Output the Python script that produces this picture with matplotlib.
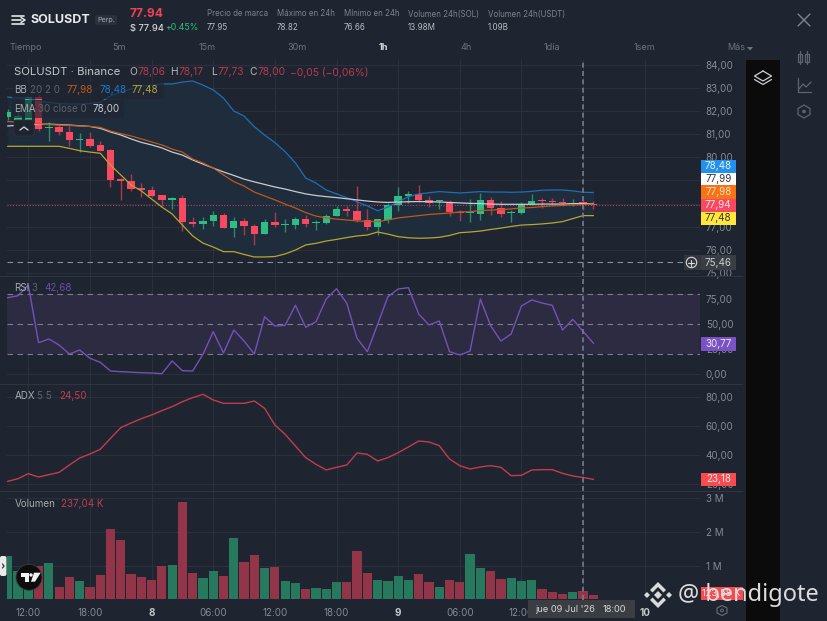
import matplotlib
matplotlib.use('Agg')
import matplotlib.pyplot as plt
from matplotlib.patches import Rectangle, Polygon, Circle, FancyBboxPatch
from matplotlib.ticker import FuncFormatter

plt.rcParams['font.family'] = ['Inter', 'DejaVu Sans']

# Hours counted from 12:00 of day 7
hours = list(range(-2, 56))

opens = [81.75, 81.62, 81.53, 82.61, 81.28, 81.30, 81.11, 80.74, 80.78, 80.52, 80.32, 79.05, 78.99, 78.66, 78.59, 78.37,
         78.16, 78.24, 77.20, 77.10, 77.25, 77.49, 76.96, 77.23, 77.03, 76.67, 77.22, 77.09, 77.07, 77.35, 77.15, 77.17,
         77.46, 77.75, 77.66, 77.28, 76.99, 77.29, 77.92, 78.34, 78.42, 78.14, 78.10, 78.05, 77.64, 77.61, 77.56, 78.16,
         77.81, 77.58, 77.61, 77.98, 78.16, 78.10, 78.08, 78.00, 78.06, 78.00]
highs = [82.10, 81.95, 82.61, 82.70, 81.55, 81.39, 81.36, 81.04, 81.09, 80.72, 80.35, 79.10, 79.28, 78.88, 78.76, 78.37,
         78.30, 78.37, 77.43, 77.43, 77.67, 77.61, 77.41, 77.38, 77.12, 77.32, 77.64, 77.32, 77.43, 77.52, 77.29, 77.55,
         77.90, 77.90, 78.76, 77.78, 77.32, 78.04, 78.73, 78.56, 78.80, 78.33, 78.16, 78.16, 77.72, 78.18, 78.47, 78.30,
         78.13, 77.72, 78.08, 78.40, 78.26, 78.26, 78.23, 78.21, 78.17, 78.10]
lows = [81.60, 81.45, 81.40, 81.15, 80.72, 80.96, 80.49, 80.25, 80.46, 80.28, 78.73, 78.16, 78.56, 78.30, 78.30, 77.90,
        77.75, 76.83, 76.97, 76.90, 77.03, 76.96, 76.57, 76.66, 76.22, 76.67, 76.97, 76.77, 76.92, 76.97, 76.86, 77.12,
        77.46, 77.46, 77.22, 76.86, 76.65, 77.17, 77.69, 78.04, 78.07, 77.87, 77.78, 77.46, 77.23, 77.20, 77.29, 77.52,
        77.43, 77.20, 77.55, 77.94, 77.81, 77.90, 77.90, 77.90, 77.73, 77.75]
closes = [81.97, 81.80, 82.61, 81.23, 81.31, 81.10, 80.75, 80.78, 80.49, 80.29, 79.02, 78.99, 78.65, 78.57, 78.33, 78.14,
          78.23, 77.20, 77.12, 77.25, 77.49, 76.96, 77.25, 77.03, 76.67, 77.22, 77.06, 77.12, 77.33, 77.12, 77.20, 77.48,
          77.77, 77.66, 77.30, 76.99, 77.32, 77.92, 78.33, 78.42, 78.14, 78.04, 78.13, 77.64, 77.58, 77.64, 78.14, 77.81,
          77.56, 77.64, 77.98, 78.13, 78.10, 78.08, 78.01, 78.04, 78.00, 77.94]

bb_upper = [82.61, 82.57, 82.55, 82.44, 82.38, 82.33, 82.31, 82.31, 82.33, 82.38, 82.66, 82.83, 82.96, 83.09, 83.13, 83.18,
            83.18, 83.26, 83.31, 83.13, 82.92, 82.57, 82.01, 81.79, 81.33, 80.97, 80.64, 80.25, 79.76, 79.11, 78.89, 78.59,
            78.42, 78.26, 78.08, 77.90, 77.69, 77.85, 78.08, 78.30, 78.42, 78.47, 78.52, 78.49, 78.46, 78.49, 78.52, 78.50,
            78.50, 78.49, 78.50, 78.53, 78.58, 78.59, 78.59, 78.55, 78.49, 78.48]
bb_mid = [81.55, 81.53, 81.49, 81.45, 81.42, 81.40, 81.38, 81.36, 81.34, 81.30, 81.14, 81.03, 80.93, 80.80, 80.67, 80.54,
          80.36, 80.23, 79.93, 79.76, 79.54, 79.24, 78.95, 78.76, 78.50, 78.33, 78.16, 77.98, 77.81, 77.61, 77.46, 77.38,
          77.33, 77.29, 77.25, 77.23, 77.22, 77.29, 77.38, 77.43, 77.48, 77.53, 77.56, 77.59, 77.64, 77.65, 77.70, 77.72,
          77.74, 77.77, 77.81, 77.83, 77.87, 77.90, 77.92, 77.94, 77.96, 77.98]
bb_lower = [80.48, 80.48, 80.48, 80.48, 80.48, 80.48, 80.39, 80.29, 80.23, 80.18, 79.67, 79.24, 78.81, 78.55, 78.20, 77.85,
            77.55, 77.07, 76.60, 76.29, 76.12, 75.92, 75.92, 75.80, 75.69, 75.69, 75.71, 75.82, 75.99, 76.21, 76.28, 76.38,
            76.45, 76.53, 76.60, 76.64, 76.77, 76.68, 76.57, 76.52, 76.50, 76.51, 76.54, 76.62, 76.74, 76.77, 76.81, 76.88,
            76.94, 77.01, 77.07, 77.09, 77.12, 77.16, 77.22, 77.35, 77.48, 77.48]
ema = [81.36, 81.39, 81.42, 81.43, 81.44, 81.42, 81.40, 81.37, 81.34, 81.26, 81.10, 80.97, 80.80, 80.65, 80.54, 80.41,
       80.23, 80.10, 79.89, 79.71, 79.54, 79.37, 79.22, 79.06, 78.94, 78.83, 78.72, 78.63, 78.52, 78.42, 78.35, 78.30,
       78.26, 78.21, 78.16, 78.11, 78.07, 78.05, 78.07, 78.08, 78.09, 78.08, 78.07, 78.05, 78.03, 78.01, 78.00, 77.98,
       77.97, 77.97, 77.97, 77.97, 77.98, 77.98, 77.98, 78.00, 78.00, 77.99]

rsi = [76.3, 78.3, 89.0, 31.3, 35.0, 29.0, 20.0, 24.0, 15.7, 11.7, 3.0, 2.3, 1.8, 1.3, 1.0, 0.3,
       13.0, 3.3, 3.0, 19.7, 42.3, 21.0, 44.0, 33.0, 20.0, 57.3, 48.0, 48.7, 68.7, 46.7, 52.3, 75.0,
       85.3, 70.7, 35.7, 22.3, 49.7, 77.3, 85.0, 86.3, 60.0, 49.0, 53.0, 22.3, 19.0, 23.0, 75.0, 48.3,
       33.0, 40.0, 68.0, 74.0, 71.0, 68.7, 44.0, 54.7, 42.7, 30.8]
adx = [21.84, 23.68, 27.13, 24.83, 26.44, 28.05, 33.10, 37.93, 40.69, 43.90, 51.50, 58.85, 62.07, 65.06, 67.59, 70.58,
       73.34, 76.79, 79.54, 81.84, 77.94, 75.64, 75.64, 75.64, 77.25, 72.20, 60.69, 54.26, 46.21, 38.17, 33.57, 29.66,
       31.50, 33.10, 41.39, 40.47, 35.87, 38.17, 41.61, 45.52, 49.66, 48.97, 46.44, 37.25, 32.65, 30.35, 31.73, 32.65,
       31.50, 25.75, 25.98, 29.66, 29.89, 29.89, 27.36, 25.52, 24.50, 23.18]
# volume in millions
volume = [1.27, 0.84, 0.55, 1.00, 1.09, 0.36, 0.65, 0.53, 0.37, 0.73, 2.08, 1.75, 0.75, 0.67, 0.56, 1.00,
          1.02, 2.88, 0.78, 0.62, 0.84, 0.70, 1.81, 1.12, 1.31, 0.92, 0.97, 0.53, 0.47, 0.32, 0.34, 0.31,
          0.50, 0.50, 1.43, 0.77, 0.56, 0.55, 0.70, 0.56, 0.75, 0.50, 0.37, 0.57, 0.51, 1.35, 0.92, 0.84,
          0.59, 0.62, 0.54, 0.57, 0.32, 0.22, 0.17, 0.22, 0.237, 0.124]

time_ticks = list(range(0, 61, 6))
# the 18:00 at the crosshair sits under the date tag, so the tag carries it
time_labels = ['12:00', '18:00', '8', '06:00', '12:00', '18:00', '9', '06:00', '12:00', '', '10']
price_ticks = [75, 76, 77, 78, 79, 80, 81, 82, 83, 84]
hidden_price_ticks = [78, 79]
rsi_ticks = [0, 25, 50, 75]
adx_ticks = [20, 40, 60, 80]
vol_ticks = [1, 2, 3]
last_price = 77.94
alert_price = 75.46
cross_hour = 54

BG = '#1e2530'
GRID = '#2a303c'
AXIS_TEXT = '#858a94'
UP = '#2ebd85'
DOWN = '#f84960'
W, H = 828, 621

fig = plt.figure(figsize=(W / 100, H / 100), dpi=100, facecolor=BG)


def pane(top, bottom, ylim, ticks):
    ax = fig.add_axes([7 / W, 1 - bottom / H, 693 / W, (bottom - top) / H], facecolor='none')
    ax.set_xlim(-2.074, 65.38)
    ax.set_ylim(*ylim)
    ax.set_xticks(time_ticks)
    ax.set_yticks(ticks)
    ax.yaxis.tick_right()
    ax.tick_params(length=0, labelsize=7.1, labelcolor=AXIS_TEXT, pad=4.2, labelbottom=False)
    ax.grid(color=GRID, lw=0.8)
    ax.set_axisbelow(True)
    for s in ax.spines.values():
        s.set_visible(False)
    ax.axvline(cross_hour, color='#767c8a', lw=1.2, ls=(0, (3, 2)), zorder=6)
    return ax


comma = FuncFormatter(lambda v, _: f'{v:.2f}'.replace('.', ','))

# price pane
ax = pane(60, 276, (74.866, 84.216), price_ticks)
ax.yaxis.set_major_formatter(FuncFormatter(lambda v, _: '' if round(v) in hidden_price_ticks else f'{v:.2f}'.replace('.', ',')))
ax.fill_between(hours, bb_lower, bb_upper, color='#1e2c3c', lw=0, zorder=1)
up = [c >= o for o, c in zip(opens, closes)]
wick_colors = ['#2c8a68' if u else '#a43c50' for u in up]
ax.vlines(hours, lows, highs, colors=wick_colors, lw=1.0, zorder=3)
ax.bar(hours, [max(abs(c - o), 0.04) for o, c in zip(opens, closes)], bottom=[min(o, c) for o, c in zip(opens, closes)],
       width=0.72, color=[UP if u else DOWN for u in up], zorder=4)
ax.plot(hours, bb_upper, color='#1f6fb5', lw=0.9, zorder=5)
ax.plot(hours, bb_lower, color='#b8a62f', lw=0.9, zorder=5)
ax.plot(hours, ema, color='#c8ccd2', lw=0.9, zorder=5)
ax.plot(hours, bb_mid, color='#c0581a', lw=0.9, zorder=5)
ax.axhline(last_price, color='#a8475a', lw=0.8, ls=(0, (1, 1.5)), zorder=2)
ax.plot([-2.074, 63.7], [alert_price, alert_price], color='#8b8f98', lw=0.8, ls=(0, (5, 4)), zorder=2)

# RSI pane
ax2 = pane(276, 383.7, (-9.7, 98), rsi_ticks)
ax2.yaxis.set_major_formatter(comma)
ax2.axhspan(20, 80, color='#2c2b42', lw=0, zorder=1)
for level in (20, 50, 80):
    ax2.axhline(level, color='#7b7e88', lw=0.8, ls=(0, (5, 4)), zorder=2)
ax2.plot(hours, rsi, color='#7352b5', lw=1.0, zorder=5)

# ADX pane
ax3 = pane(383.7, 491, (15.17, 89.17), adx_ticks)
ax3.yaxis.set_major_formatter(comma)
ax3.plot(hours, adx, color='#c23c50', lw=1.0, zorder=5)

# volume pane
ax4 = pane(491, 600, (-0.02, 3.21), vol_ticks)
ax4.yaxis.set_major_formatter(FuncFormatter(lambda v, _: f'{v:.0f} M'))
vol_colors = ['#26795d' if u else '#923548' for u in up]
ax4.bar(hours, volume, width=0.9, color=vol_colors, zorder=3)
ax4.tick_params(labelbottom=True, axis='x', pad=5.5)
ax4.set_xticklabels(time_labels)
for lab in ax4.get_xticklabels():
    if ':' not in lab.get_text():
        lab.set_color('#c4c7cc')
        lab.set_fontweight('bold')

# everything around the chart, in pixels
ui = fig.add_axes([0, 0, 1, 1], facecolor='none')
ui.set_xlim(0, W)
ui.set_ylim(H, 0)
ui.axis('off')


def t(x, y, s, color='#8a8f99', size=7.1, ha='left', weight='normal', **kw):
    ui.text(x, y, s, color=color, fontsize=size, ha=ha, va='center', fontweight=weight, **kw)


def rect(x0, y0, x1, y1, color, alpha=1.0, z=2):
    ui.add_patch(Rectangle((x0, y0), x1 - x0, y1 - y0, fc=color, ec='none', alpha=alpha, zorder=z))


def line(xs, ys, color='#8a8f99', lw=1.0, z=5):
    ui.plot(xs, ys, color=color, lw=lw, zorder=z, solid_capstyle='round')


for y in (276, 383.7, 491):
    line([0, 742], [y, y], color='#2f3540', lw=0.8, z=1)
rect(746, 60, 780, 621, '#0b0b0b')

# header
for y0, x1 in ((16, 24), (20, 21), (24, 24)):
    line([12, x1], [y0, y0], color='#e6e8ea', lw=1.2)
line([21, 25, 21], [17.5, 20, 22.5], color='#e6e8ea', lw=1.1)
t(31, 20, 'SOLUSDT', '#e8eaec', 9.0, weight='bold')
ui.add_patch(FancyBboxPatch((95, 15), 22, 10, boxstyle='round,pad=0,rounding_size=2', fc='#2b313c', ec='none'))
t(106, 20, 'Perp.', '#a2a6ae', 5.2, ha='center')
t(130, 14, '77.94', '#ee4257', 8.6, weight='bold')
t(130, 28, '$ 77.94', '#d4d6da', 6.7, weight='medium')
t(165, 28, '+0.45%', '#2ebd85', 6.3)
for x, name, val in ((207, 'Precio de marca', '77.95'), (277, 'Máximo en 24h', '78.82'), (344, 'Mínimo en 24h', '76.66'),
                     (408, 'Volumen 24h(SOL)', '13.98M'), (488, 'Volumen 24h(USDT)', '1.09B')):
    t(x, 14, name, '#7e838d', 5.7)
    t(x, 27, val, '#b7bac0', 5.8)
line([798, 810], [14, 26], '#7e838d', 1.0)
line([798, 810], [26, 14], '#7e838d', 1.0)

# timeframes
t(10, 48, 'Tiempo', '#6f747e', 6.5)
for x, lab in ((119, '5m'), (207, '15m'), (297, '30m'), (466, '4h'), (552, '1día'), (644, '1sem')):
    t(x, 48, lab, '#6f747e', 6.5, ha='center')
t(383, 48, '1h', '#d6d8dc', 6.5, ha='center', weight='bold')
t(727, 48, 'Más', '#6f747e', 6.5)
ui.add_patch(Polygon([(747, 47), (753, 47), (750, 50.5)], fc='#6f747e', ec='none', zorder=5))

# legend backgrounds
rect(12, 82, 164, 99, BG, 0.7, 3)
rect(12, 100, 124, 118, BG, 0.7, 3)

# legends
t(14.5, 72, 'SOLUSDT · Binance', '#c4c7cc', 8.2)
for x, s, c in ((129, 'O', '#b4b7bd'), (137.5, '78,06', '#b83a4d'), (170, 'H', '#b4b7bd'), (178, '78,17', '#b83a4d'),
                (211, 'L', '#b4b7bd'), (217, '77,73', '#b83a4d'), (249, 'C', '#b4b7bd'), (257, '78,00', '#b83a4d'),
                (290, '−0,05 (−0,06%)', '#b83a4d')):
    t(x, 72, s, c, 7.4)
for x, y, s, c in ((14.5, 90, 'BB', '#a5a8af'), (30, 90, '20 2 0', '#5e636d'), (67, 90, '77,98', '#c0581a'),
                   (99.5, 90, '78,48', '#1f78c8'), (132, 90, '77,48', '#b8a62f'),
                   (14.5, 109, 'EMA', '#a5a8af'), (38, 109, '30 close 0', '#5e636d'), (93, 109, '78,00', '#c8ccd2'),
                   (14.5, 288, 'RSI', '#a5a8af'), (31.5, 288, '3', '#5e636d'), (44, 288, '42,68', '#6a4cab'),
                   (14.5, 396, 'ADX', '#a5a8af'), (37, 396, '5 5', '#5e636d'), (59, 396, '24,50', '#c23c50'),
                   (14.5, 504, 'Volumen', '#a5a8af'), (61, 504, '237,04 K', '#c23c50')):
    t(x, y, s, c, 7.1, zorder=6)

# collapse button
ui.add_patch(FancyBboxPatch((14, 120), 20, 16, boxstyle='round,pad=0,rounding_size=2', fc='#1f242e', ec='#2d323c', lw=0.6, zorder=4))
line([20, 24, 28], [130, 127, 130], '#c9ccd1', 1.0)

# price tags on the right axis
for y0, y1, lab, bg, fg in ((160, 172.7, '78,48', '#2290ec', '#e6f2fc'), (172.7, 185.2, '77,99', '#ffffff', '#30343c'),
                            (185.2, 198.5, '77,98', '#f97316', '#fbe3cf'), (198.5, 211.7, '77,94', '#f84960', '#fde2e6'),
                            (211.7, 224.7, '77,48', '#fde73d', '#3a3820'), (337, 350.7, '30,77', '#7a52c4', '#f0e8fa'),
                            (473, 486, '23,18', '#f84b4f', '#fde6e6')):
    rect(700.7, y0, 736, y1, bg, z=4)
    t(718.3, (y0 + y1) / 2, lab, fg, 7.1, ha='center', zorder=6)
rect(684, 255, 700.7, 270, '#33363c', z=4)
rect(700.7, 255, 736, 270, '#3a3d42', z=4)
t(718.3, 262.5, '75,46', '#c9ccd1', 7.1, ha='center', zorder=6)
ui.add_patch(Circle((691.5, 262.5), 5.2, fc='none', ec='#d8dadd', lw=0.8, zorder=6))
line([688.5, 694.5], [262.5, 262.5], '#d8dadd', 0.8, 6)
line([691.5, 691.5], [259.5, 265.5], '#d8dadd', 0.8, 6)
rect(700.7, 586.7, 743, 599.5, '#f84b4f', z=4)
t(721.5, 593, '123,58 K', '#fde6e6', 6.8, ha='center', zorder=5)

# date tag
rect(528, 600, 635, 618, '#3a3d42', z=4)
t(535, 610, "jue 09 Jul '26", '#d2d4d8', 6.7, zorder=6)
t(603, 610, '18:00', '#d2d4d8', 6.7, zorder=6)

# right side icons
ic = '#5f6570'
line([763, 771.5, 763, 754.5, 763], [71, 76, 81, 76, 71], '#c9ccd1', 0.9)
line([754.5, 763, 771.5], [79.5, 84.5, 79.5], '#c9ccd1', 0.9)
for x in (800.5, 807.5):
    ui.add_patch(Rectangle((x - 2, 54), 4, 8, fc='none', ec=ic, lw=0.9, zorder=5))
    line([x, x], [51, 64], ic, 0.9)
line([798, 798, 811], [78, 92, 92], ic, 0.9)
line([799, 803, 806, 811], [89, 84, 87, 82], ic, 0.9)
ui.add_patch(Polygon([(804, 105), (810, 108.5), (810, 114.5), (804, 118), (798, 114.5), (798, 108.5)], fc='none', ec=ic, lw=0.9, zorder=5))
ui.add_patch(Circle((804, 111.5), 1.8, fc=ic, ec='none', zorder=5))
ui.add_patch(Polygon([(722, 605.5), (727, 608), (727, 613), (722, 615.5), (717, 613), (717, 608)], fc='none', ec='#6b707a', lw=0.8, zorder=5))
ui.add_patch(Circle((722, 610.5), 1.4, fc='none', ec='#6b707a', lw=0.7, zorder=5))

# TradingView logo and side handle
ui.add_patch(Circle((29, 577.3), 13, fc='#0d0d0d', ec='#3a3d42', lw=0.6, zorder=6))
ui.add_patch(Polygon([(20.7, 573.3), (29.3, 573.3), (29.3, 581.7), (25, 581.7), (25, 577.3), (20.7, 577.3)], fc='#f2f2f2', ec='none', zorder=7))
ui.add_patch(Circle((31, 575), 1.7, fc='#f2f2f2', ec='none', zorder=7))
ui.add_patch(Polygon([(34, 572.7), (40.7, 572.7), (35, 581.7), (31, 581.7)], fc='#f2f2f2', ec='none', zorder=7))
ui.add_patch(FancyBboxPatch((0, 556), 6.5, 20, boxstyle='round,pad=0,rounding_size=2', fc='#e9eaec', ec='none', zorder=6))
line([2.5, 4, 2.5], [564, 566, 568], '#30343c', 0.9, 7)

# watermark
mark = '#d9dadc'
cx, cy = 658, 595
for dx, dy in ((-11, 0), (11, 0), (0, 0)):
    r = 4 if dx == 0 else 3
    ui.add_patch(Polygon([(cx + dx - r, cy + dy), (cx + dx, cy + dy - r), (cx + dx + r, cy + dy), (cx + dx, cy + dy + r)],
                         fc=mark, ec='none', zorder=8))
for s in (-1, 1):
    ui.add_patch(Polygon([(cx - 8, cy + s * 5), (cx, cy + s * 13), (cx + 8, cy + s * 5), (cx + 5.5, cy + s * 2.5),
                          (cx, cy + s * 8), (cx - 5.5, cy + s * 2.5)], fc=mark, ec='none', zorder=8))
ui.text(678, 595, '@ bendigote', color='#dcdcde', fontsize=17, family='Noto Sans', ha='left', va='center', zorder=8)

fig.savefig('out.png', dpi=100, facecolor=BG)
